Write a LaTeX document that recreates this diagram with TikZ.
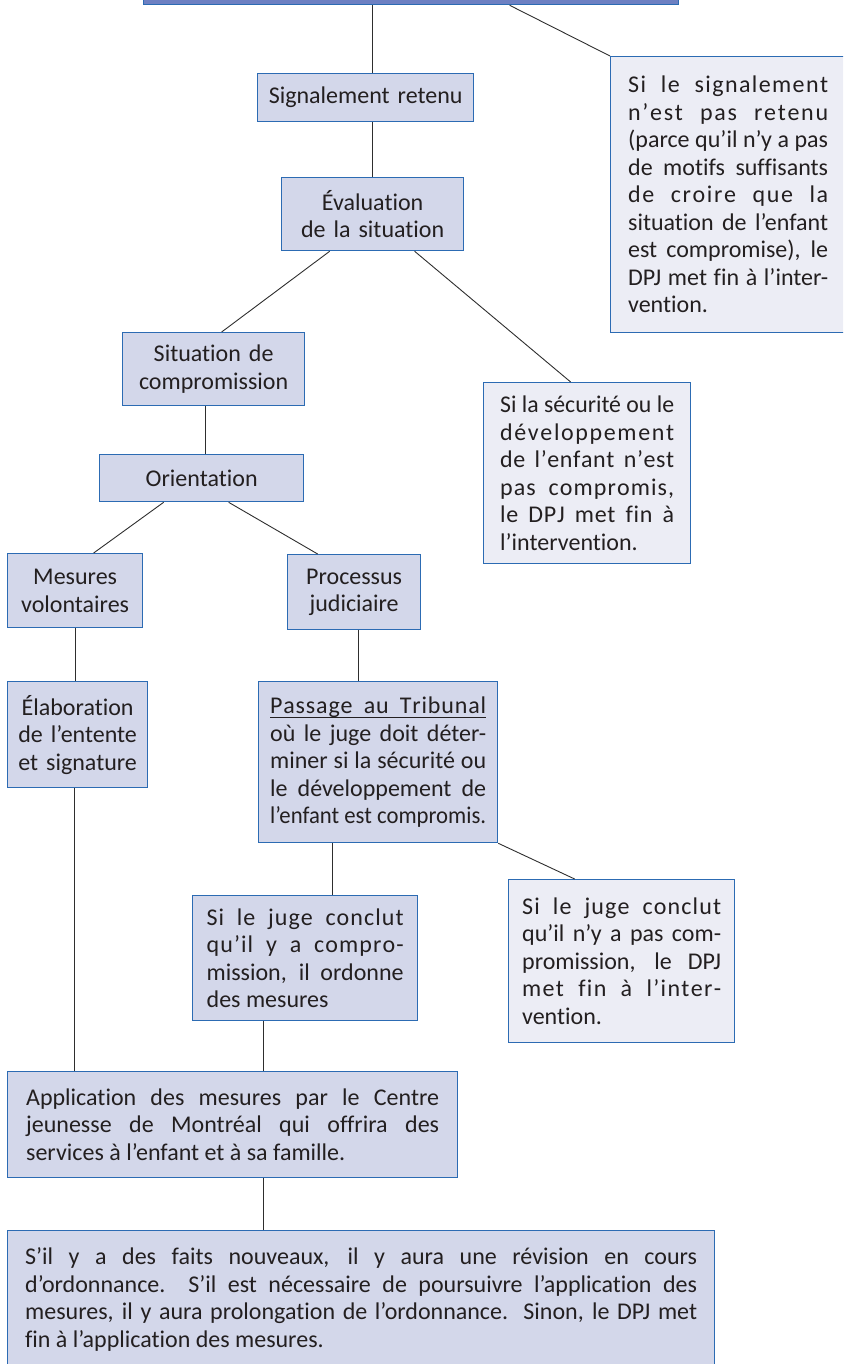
\documentclass[tikz,border=0pt]{standalone}
\usepackage{fontspec}
\setmainfont{Carlito}[Ligatures=NoCommon]
\usetikzlibrary{calc}
\definecolor{boxfill}{HTML}{D3D7EA}
\definecolor{sidefill}{HTML}{ECEDF5}
\definecolor{boxline}{HTML}{2C6BB3}
\definecolor{topfill}{HTML}{6D80C2}
\definecolor{txt}{HTML}{231F20}
\definecolor{connc}{HTML}{2E2E2E}
\tolerance=10000
\hyphenpenalty=10000
% letter-spaced word (stretchable gaps between letters)
\def\ls#1{\lsA#1\relax}
\def\lsA#1{#1\lsB}
\def\lsB#1{\ifx\relax#1\else\hskip0pt plus 0.4pt\relax\expandafter\lsA\expandafter#1\fi}
% scale a line down if it is wider than the column
\newcommand\fitline[1]{\setbox0\hbox{#1}\ifdim\wd0>\hsize\resizebox{\hsize}{\ht0}{#1}\else#1\fi}
\tikzset{
  box/.style={draw=boxline, line width=1.3pt, fill=boxfill, text=txt, inner sep=0pt,
    anchor=north west, font=\fontsize{24}{27.5}\selectfont},
  sidebox/.style={box, fill=sidefill},
  topbox/.style={box, fill=topfill},
  connector/.style={draw=connc, line width=0.9pt},
}
\begin{document}
\begin{tikzpicture}[x=1pt,y=-1pt]
\useasboundingbox (0,0) rectangle (843,1364);
\clip (0,0) rectangle (843,1364);

\node[topbox, minimum width=535, minimum height=60] (top) at (143,-56) {};
\node[box, minimum width=216, minimum height=48, text width=205, align=center] (sig) at (257,73) {Signalement retenu};
\node[box, minimum width=182, minimum height=73, text width=175, align=center] (eval) at (281,177) {Évaluation\\de la situation};
\node[sidebox, minimum width=235, minimum height=276, text width=200, align=justify] (r1) at (610,56)
  {\noindent\ls{Si} \ls{le} \ls{signalement}\linebreak \ls{n’est} \ls{pas} \ls{retenu}\linebreak \fitline{(parce qu’il n’y a pas}\linebreak de motifs suffisants\linebreak \ls{de} \ls{croire} \ls{que} \ls{la}\linebreak situation de l’enfant\linebreak est compromise), le\linebreak DPJ met fin à l’inter-\linebreak vention.};
\node[box, minimum width=182, minimum height=73, text width=175, align=center] (sit) at (122,332) {Situation de\\compromission};
\node[sidebox, minimum width=207, minimum height=181, text width=174, align=justify] (r2) at (483,382)
  {\noindent\fitline{Si la sécurité ou le}\linebreak \ls{développement}\linebreak \ls{de} \ls{l’enfant} \ls{n’est}\linebreak \ls{pas} \ls{compromis,}\linebreak \ls{le} \ls{DPJ} \ls{met} \ls{fin} \ls{à}\linebreak l’intervention.};
\node[box, minimum width=204, minimum height=47, text width=190, align=center] (ori) at (99,454) {Orientation};
\node[box, minimum width=135, minimum height=74, text width=128, align=center] (mes) at (7,553) {Mesures\\volontaires};
\node[box, minimum width=133, minimum height=75, text width=126, align=center] (pro) at (287,554) {Processus\\judiciaire};
\node[box, minimum width=140, minimum height=106, text width=132, align=center] (ela) at (7,681) {Élaboration\\de l’entente\\et signature};
\node[box, minimum width=239, minimum height=161, text width=216, align=justify] (pas) at (258,681)
  {\noindent\rlap{\rule[-4.5pt]{\hsize}{1.1pt}}\ls{Passage} \ls{au} \ls{Tribunal}\linebreak où le juge doit déter-\linebreak \fitline{miner si la sécurité ou}\linebreak le développement de\linebreak \fitline{l’enfant est compromis.}};
\node[sidebox, minimum width=226, minimum height=163, text width=199, align=justify] (r3) at (508,879)
  {\noindent\ls{Si} \ls{le} \ls{juge} \ls{conclut}\linebreak qu’il n’y a pas com-\linebreak promission, le DPJ\linebreak \ls{met} \ls{fin} \ls{à} \ls{l’inter-}\linebreak vention.};
\node[box, minimum width=225, minimum height=125, text width=197, align=justify] (m) at (192,895)
  {\noindent\ls{Si} \ls{le} \ls{juge} \ls{conclut}\linebreak \ls{qu’il} \ls{y} \ls{a} \ls{compro-}\linebreak mission, il ordonne\linebreak des mesures};
\node[box, minimum width=450, minimum height=106, text width=413, align=justify] (app) at (7,1071)
  {\noindent Application des mesures par le Centre\linebreak jeunesse de Montréal qui offrira des\linebreak services à l’enfant et à sa famille.};
\node[box, minimum width=707, minimum height=138, text width=672, align=justify] (bot) at (7,1230)
  {\noindent S’il y a des faits nouveaux, il y aura une révision en cours\linebreak d’ordonnance.\ \ S’il est nécessaire de poursuivre l’application des\linebreak mesures, il y aura prolongation de l’ordonnance.\ \ Sinon, le DPJ met\linebreak fin à l’application des mesures.};

% connectors
\coordinate (c1) at ([xshift=7]sig.north);
\draw[connector] (c1 |- top.south) -- (c1);
\draw[connector] ([xshift=98.5]top.south) -- (r1.north west);
\draw[connector] ([xshift=7]sig.south) -- (eval.north);
\draw[connector] ([xshift=-43]eval.south) -- ([xshift=8]sit.north);
\draw[connector] ([xshift=42]eval.south) -- ([xshift=-16.5]r2.north);
\coordinate (c6) at ([xshift=-8]sit.south);
\draw[connector] (c6) -- (c6 |- ori.north);
\draw[connector] ([xshift=-38]ori.south) -- ([xshift=18.5]mes.north);
\draw[connector] ([xshift=27]ori.south) -- ([xshift=-36.5]pro.north);
\draw[connector] (mes.south) -- (mes.south |- ela.north);
\coordinate (c10) at ([xshift=4.5]pro.south);
\draw[connector] (c10) -- (c10 |- pas.north);
\draw[connector] (pas.south east) -- ([xshift=-47]r3.north);
\coordinate (c12) at ([xshift=-45.5]pas.south);
\draw[connector] (c12) -- (c12 |- m.north);
\coordinate (c13) at ([xshift=-3]ela.south);
\draw[connector] (c13) -- (c13 |- app.north);
\coordinate (c14) at ([xshift=-41.5]m.south);
\draw[connector] (c14) -- (c14 |- app.north);
\coordinate (c15) at ([xshift=31]app.south);
\draw[connector] (c15) -- (c15 |- bot.north);
\end{tikzpicture}
\end{document}
